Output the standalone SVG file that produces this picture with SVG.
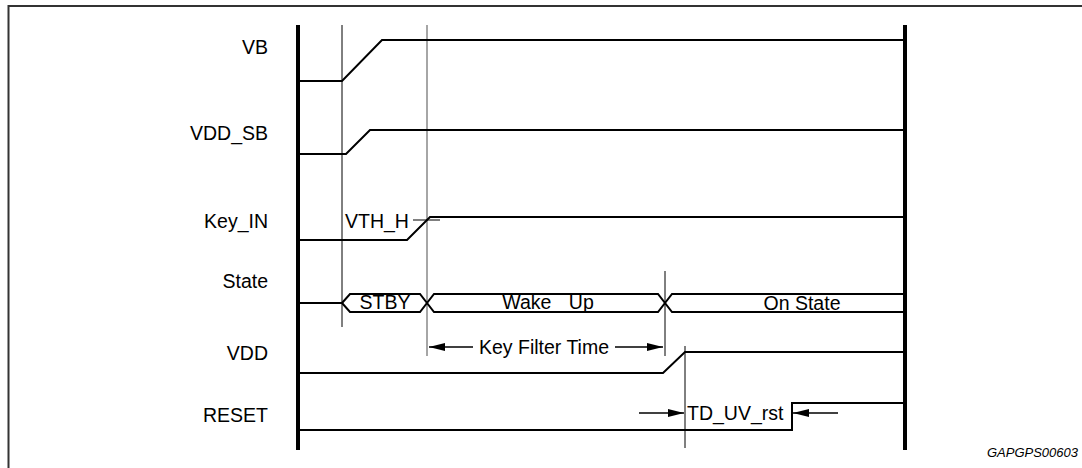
<svg xmlns="http://www.w3.org/2000/svg" width="1082" height="468" viewBox="0 0 1082 468">
<style>
text{font-family:"Liberation Sans",Arial,sans-serif;font-size:19.5px;fill:#000}
.lbl{text-anchor:end}
.sig{fill:none;stroke:#000;stroke-width:2;stroke-linejoin:miter}
.thin{stroke:#000;stroke-width:1;fill:none}
.gray{stroke:#888;stroke-width:1.5;fill:none}
.bar{stroke:#000;stroke-width:4}
.arr{stroke:#000;stroke-width:1.5;fill:none}
</style>
<defs>
<marker id="ah" viewBox="0 0 16 8" refX="16" refY="4" markerWidth="16" markerHeight="8" markerUnits="userSpaceOnUse" orient="auto">
<path d="M0,0 L16,4 L0,8 Z" fill="#000"/>
</marker>
</defs>
<rect width="1082" height="468" fill="#fff"/>
<g id="frame">
<path d="M8.5,468 V6 H1082" fill="none" stroke="#333" stroke-width="2"/>
</g>
<g id="labels">
<text class="lbl" x="268" y="54">VB</text>
<text class="lbl" x="268" y="140">VDD_SB</text>
<text class="lbl" x="268" y="228">Key_IN</text>
<text class="lbl" x="268" y="288">State</text>
<text class="lbl" x="268" y="360">VDD</text>
<text class="lbl" x="268" y="422">RESET</text>
</g>
<g id="bounds">
<line class="bar" x1="298" y1="25" x2="298" y2="450"/>
<line class="bar" x1="905" y1="25" x2="905" y2="450"/>
<line class="thin" x1="342" y1="25" x2="342" y2="327"/>
<line class="gray" x1="427" y1="25" x2="427" y2="356"/>
<line class="thin" x1="665" y1="271" x2="665" y2="356"/>
<line class="thin" x1="685" y1="346" x2="685" y2="448"/>
</g>
<g id="VB"><path class="sig" d="M298,81 H342 L382,40 H905"/></g>
<g id="VDD_SB"><path class="sig" d="M298,154 H346 L370,130 H905"/></g>
<g id="Key_IN">
<path class="sig" d="M298,240 H407 L430,217 H905"/>
<line class="thin" x1="413" y1="220" x2="440" y2="220"/>
<text x="345" y="228">VTH_H</text>
</g>
<g id="State">
<path class="sig" d="M298,303 H342"/>
<path class="sig" d="M342,303 L350,294 H420 L434,312 H658 L672,294 H905"/>
<path class="sig" d="M342,303 L350,312 H420 L434,294 H658 L672,312 H905"/>
<text x="385" y="309" text-anchor="middle">STBY</text>
<text x="548" y="309" text-anchor="middle" word-spacing="12">Wake Up</text>
<text x="802" y="310" text-anchor="middle">On State</text>
</g>
<g id="VDD"><path class="sig" d="M298,373 H663 L685,352 H905"/></g>
<g id="RESET"><path class="sig" d="M298,430 H792 V403 H905"/></g>
<g id="connectors">
<line class="arr" x1="473" y1="347" x2="429" y2="347" marker-end="url(#ah)"/>
<line class="arr" x1="615" y1="347" x2="663" y2="347" marker-end="url(#ah)"/>
<text x="479" y="354">Key Filter Time</text>
<line class="arr" x1="639" y1="413" x2="684" y2="413" marker-end="url(#ah)"/>
<line class="arr" x1="838" y1="413" x2="793" y2="413" marker-end="url(#ah)"/>
<text x="687" y="420">TD_UV_rst</text>
</g>
<text x="1078" y="457" text-anchor="end" font-style="italic" style="font-size:13px">GAPGPS00603</text>
</svg>
